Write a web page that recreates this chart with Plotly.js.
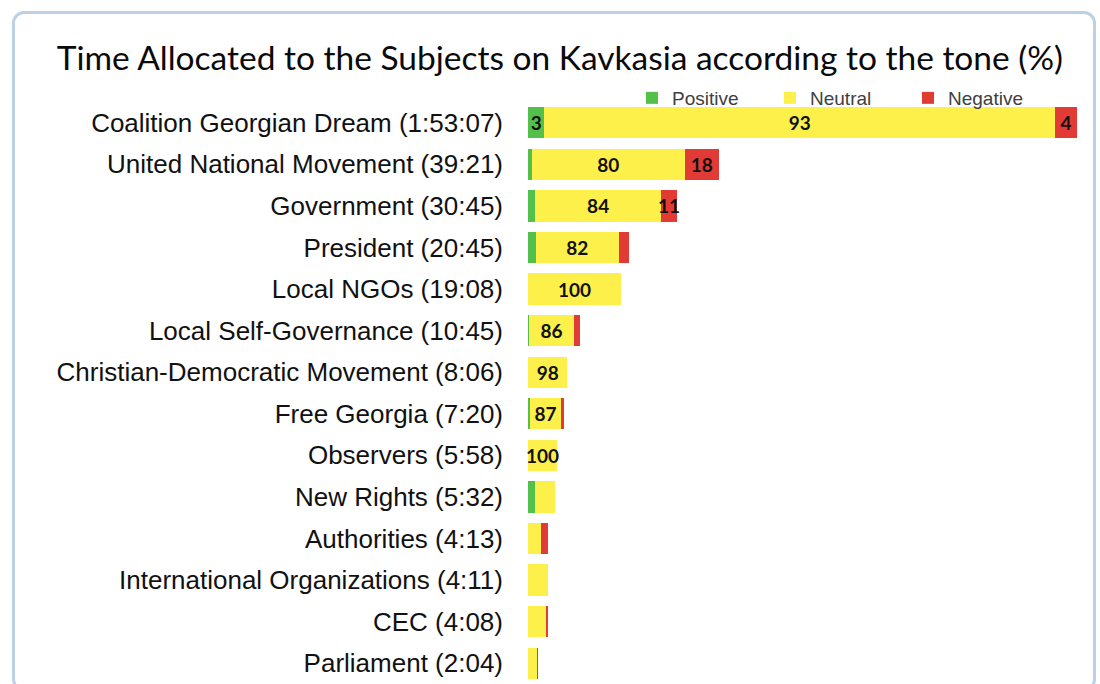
<!DOCTYPE html>
<html>
<head>
<meta charset="utf-8">
<script src="https://cdn.plot.ly/plotly-3.0.1.min.js"></script>
<style>
  html, body { margin: 0; padding: 0; background: #ffffff; }
  #wrap { position: relative; width: 1100px; height: 684px; overflow: hidden; }
  #chart { position: absolute; left: 0; top: 0; width: 1100px; height: 684px; }
  #frame { position: absolute; left: 12px; top: 11px; width: 1084px; height: 680px;
           border: 3px solid #bcd0e6; border-radius: 12px; pointer-events: none; box-sizing: border-box; }
</style>
</head>
<body>
<div id="wrap">
  <div id="chart"></div>
  <div id="frame"></div>
</div>
<script>
// Subjects (top to bottom) and total airtime
const subjects = [
  "Coalition Georgian Dream (1:53:07)",
  "United National Movement (39:21)",
  "Government (30:45)",
  "President (20:45)",
  "Local NGOs (19:08)",
  "Local Self-Governance (10:45)",
  "Christian-Democratic Movement (8:06)",
  "Free Georgia (7:20)",
  "Observers (5:58)",
  "New Rights (5:32)",
  "Authorities (4:13)",
  "International Organizations (4:11)",
  "CEC (4:08)",
  "Parliament (2:04)"
];
const durations = ["1:53:07","39:21","30:45","20:45","19:08","10:45","8:06","7:20","5:58","5:32","4:13","4:11","4:08","2:04"];

// Tone shares (%)
const positivePct = [3, 2, 5, 8, 0, 2, 1, 6, 0, 25, 0, 0, 0, 0];
const neutralPct  = [93, 80, 84, 82, 100, 86, 98, 87, 100, 75, 62, 100, 88, 85];
const negativePct = [4, 18, 11, 10, 0, 12, 1, 7, 0, 0, 38, 0, 12, 15];

// Printed labels
const positiveLabels = ["3","","","","","","","","","","","","",""];
const neutralLabels  = ["93","80","84","82","100","86","98","87","100","","","","",""];
const negativeLabels = ["4","18","11","","","","","","","","","","",""];

function toSeconds(s) {
  return s.split(":").map(Number).reduce((a, v) => a * 60 + v, 0);
}
const seconds = durations.map(toSeconds);
const seg = pct => pct.map((p, i) => seconds[i] * p / 100);

const labelFont = { family: "Lato, 'Open Sans', sans-serif", size: 19, color: "#111111", weight: 700 };

function trace(name, pct, labels, color) {
  return {
    type: "bar",
    orientation: "h",
    name: name,
    y: subjects,
    x: seg(pct),
    text: labels,
    textposition: "inside",
    insidetextanchor: "middle",
    constraintext: "none",
    textangle: 0,
    textfont: labelFont,
    cliponaxis: false,
    marker: { color: color, line: { width: 0 } },
    hoverinfo: "none"
  };
}

const data = [
  trace("Positive", positivePct, positiveLabels, "#52c04a"),
  trace("Neutral", neutralPct, neutralLabels, "#fdf04a"),
  trace("Negative", negativePct, negativeLabels, "#e23b36")
];

const layout = {
  width: 1100,
  height: 684,
  paper_bgcolor: "#ffffff",
  plot_bgcolor: "#ffffff",
  margin: { l: 528, r: 22, t: 102, b: 0, autoexpand: false },
  barmode: "stack",
  bargap: 0.25,
  showlegend: true,
  title: {
    text: "Time Allocated to the Subjects on Kavkasia according to the tone (%)",
    font: { family: "Lato, 'Open Sans', sans-serif", size: 33.5, color: "#0a0a0a" },
    x: 0.509, xanchor: "center",
    y: 1 - 58 / 684, yanchor: "middle", yref: "container"
  },
  legend: {
    orientation: "h",
    x: 632 / 1100, xref: "container", xanchor: "left",
    y: 1 - 98 / 684, yref: "container", yanchor: "middle",
    font: { family: "'Liberation Sans', Arial, sans-serif", size: 19, color: "#404040" },
    entrywidth: 93, entrywidthmode: "pixels",
    itemwidth: 30,
    bgcolor: "rgba(0,0,0,0)",
    traceorder: "normal"
  },
  xaxis: {
    range: [0, toSeconds("1:53:07") * 1.002],
    showgrid: false, zeroline: false, showticklabels: false, showline: false, ticks: ""
  },
  yaxis: {
    autorange: "reversed",
    type: "category",
    showgrid: false, zeroline: false, showline: false, ticks: "",
    ticklabelstandoff: 24,
    tickfont: { family: "'Liberation Sans', Arial, sans-serif", size: 26, color: "#111111" }
  }
};

Plotly.newPlot("chart", data, layout, { displayModeBar: false, staticPlot: true });
</script>
</body>
</html>
